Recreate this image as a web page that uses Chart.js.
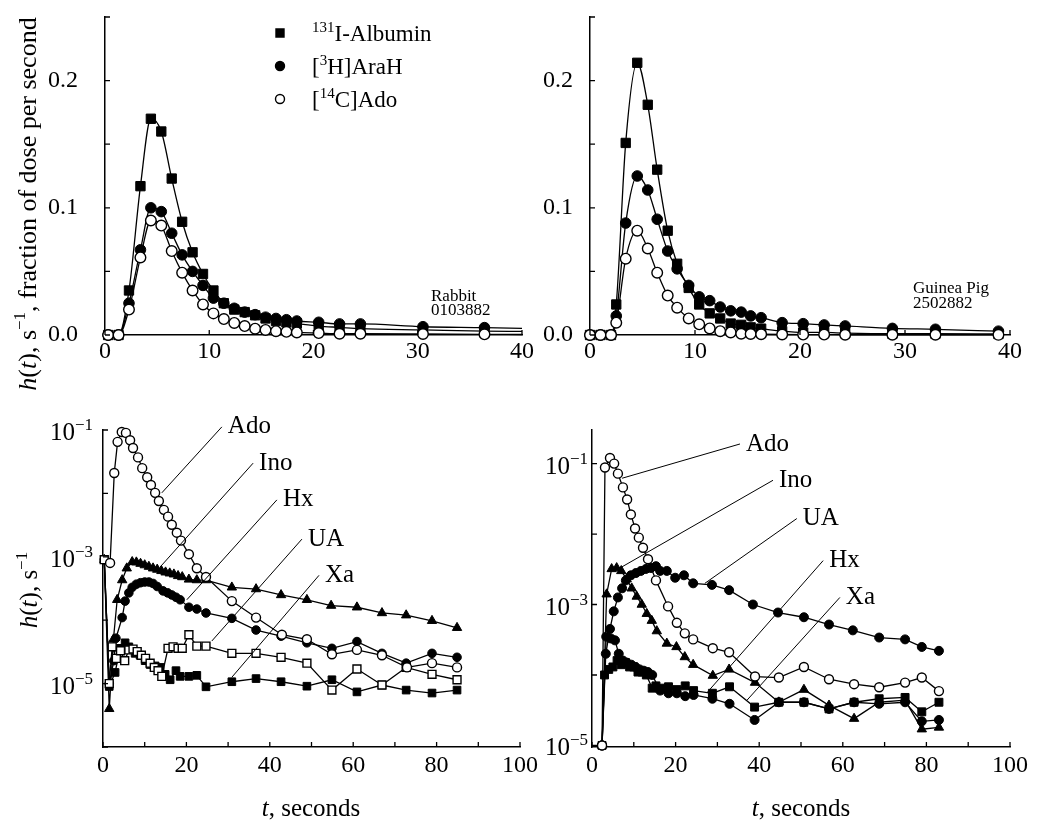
<!DOCTYPE html>
<html>
<head>
<meta charset="utf-8">
<script src="https://cdn.jsdelivr.net/npm/chart.js@4.4.1/dist/chart.umd.min.js"></script>
<style>
  html, body { margin: 0; padding: 0; background: #fff; }
  #page { position: relative; width: 1050px; height: 824px; overflow: hidden; }
  canvas { position: absolute; }
</style>
</head>
<body>
<div id="page">
  <canvas id="tl" width="545" height="410" style="left:0;top:0"></canvas>
  <canvas id="tr" width="520" height="375" style="left:530px;top:0"></canvas>
  <canvas id="bl" width="545" height="424" style="left:0;top:400px"></canvas>
  <canvas id="br" width="520" height="424" style="left:530px;top:400px"></canvas>
</div>
<script>
// ---- data: top left, rabbit 0103882 (fraction of dose per second)
const rabbitTime     = [0.3, 1.3, 2.3, 3.4, 4.4, 5.4, 6.4, 7.4, 8.4, 9.4, 10.4, 11.4, 12.4, 13.4, 14.4, 15.4, 16.4, 17.4, 18.4, 20.5, 22.5, 24.5, 30.5, 36.4, 40];
const rabbitAlbumin  = [0, 0, 0.035, 0.117, 0.170, 0.160, 0.123, 0.089, 0.065, 0.048, 0.035, 0.025, 0.020, 0.018, 0.0155, 0.013, 0.011, 0.010, 0.009, 0.007, 0.006, 0.005, 0.004, 0.003, 0.0028];
const rabbitAraH     = [0, 0, 0.025, 0.067, 0.100, 0.097, 0.080, 0.063, 0.050, 0.039, 0.029, 0.025, 0.021, 0.018, 0.016, 0.014, 0.013, 0.012, 0.011, 0.010, 0.0087, 0.0087, 0.0065, 0.0058, 0.0052];
const rabbitAdo      = [0, 0, 0.020, 0.061, 0.090, 0.086, 0.066, 0.049, 0.035, 0.024, 0.017, 0.0125, 0.0095, 0.007, 0.005, 0.004, 0.003, 0.0025, 0.002, 0.0015, 0.001, 0.001, 0.0008, 0.0005, 0.0004];

// ---- data: top right, guinea pig 2502882
const gpTime    = [0, 1.0, 2.0, 2.5, 3.4, 4.5, 5.5, 6.4, 7.4, 8.3, 9.4, 10.4, 11.4, 12.4, 13.4, 14.4, 15.3, 16.3, 18.3, 20.3, 22.3, 24.3, 28.8, 32.9, 38.9];
const gpAlbumin = [0, 0, 0, 0.024, 0.151, 0.214, 0.181, 0.130, 0.082, 0.056, 0.037, 0.024, 0.017, 0.013, 0.009, 0.008, 0.006, 0.005, 0.003, 0.002, 0.002, 0.0015, 0.001, 0.001, 0.0008];
const gpAraH    = [0, 0, 0, 0.015, 0.088, 0.125, 0.114, 0.091, 0.066, 0.052, 0.039, 0.030, 0.027, 0.022, 0.019, 0.018, 0.015, 0.0136, 0.0097, 0.0089, 0.0079, 0.0071, 0.0052, 0.0045, 0.003];
const gpAdo     = [0, 0, 0, 0.0097, 0.060, 0.082, 0.068, 0.049, 0.031, 0.0215, 0.013, 0.0084, 0.0052, 0.003, 0.002, 0.001, 0.0008, 0.0006, 0.0004, 0.0003, 0.0003, 0.0002, 0.0002, 0.0002, 0.0001];

// ---- data: bottom left, rabbit metabolites (s^-1, log)
const rbAdoT = [1.7, 2.7, 3.5, 4.5, 5.5, 6.5, 7.2, 8.4, 9.4, 10.6, 11.5, 12.5, 13.4, 14.6, 15.6, 16.5, 17.7, 18.7, 20.6, 22.5, 24.7, 30.9, 36.7, 42.9, 48.9, 54.9, 60.9, 66.9, 72.9, 78.9, 84.9];
const rbAdo  = [8e-4, 0.021, 0.065, 0.093, 0.09, 0.069, 0.052, 0.037, 0.025, 0.018, 0.0136, 0.0102, 0.0076, 0.0055, 0.0043, 0.0032, 0.0024, 0.0018, 0.0011, 6.6e-4, 4.8e-4, 2.0e-4, 1.1e-4, 5.9e-5, 5.0e-5, 2.9e-5, 3.4e-5, 2.8e-5, 1.8e-5, 2.1e-5, 1.8e-5];
const rbInoT = [0.3, 1.5, 2.5, 3.4, 4.6, 5.7, 7.0, 8.0, 9.0, 10.0, 11.0, 12.0, 13.0, 14.0, 15.0, 16.0, 17.0, 18.0, 19.0, 20.6, 22.5, 24.7, 30.9, 36.7, 42.7, 48.9, 54.7, 60.9, 66.9, 72.7, 78.9, 84.9];
const rbIno  = [9e-4, 4e-6, 5e-5, 2.1e-4, 4.3e-4, 6.6e-4, 8.3e-4, 8.2e-4, 7.8e-4, 7.4e-4, 7.0e-4, 6.6e-4, 6.3e-4, 6.0e-4, 5.7e-4, 5.5e-4, 5.3e-4, 5.0e-4, 4.8e-4, 4.4e-4, 4.3e-4, 4.3e-4, 3.3e-4, 3.1e-4, 2.5e-4, 2.1e-4, 1.7e-4, 1.6e-4, 1.3e-4, 1.2e-4, 9.8e-5, 7.6e-5];
const rbHxT  = [0.3, 1.5, 2.6, 3.1, 4.6, 5.3, 6.2, 7.0, 8.0, 9.0, 10.0, 11.0, 12.0, 13.0, 14.4, 15.5, 16.5, 17.5, 18.5, 20.6, 22.5, 24.7, 30.9, 36.7, 42.7, 48.9, 54.9, 60.9, 66.9, 72.7, 78.9, 84.9];
const rbHx   = [9e-4, 1e-5, 2.3e-5, 5.2e-5, 1.1e-4, 2e-4, 2.7e-4, 3.3e-4, 3.7e-4, 3.9e-4, 4.0e-4, 4.0e-4, 3.8e-4, 3.4e-4, 2.9e-4, 2.7e-4, 2.5e-4, 2.3e-4, 2.1e-4, 1.6e-4, 1.5e-4, 1.3e-4, 1.07e-4, 7e-5, 5.6e-5, 4.4e-5, 3.6e-5, 4.6e-5, 3e-5, 2.1e-5, 3e-5, 2.6e-5];
const rbUAT  = [0.3, 1.5, 2.2, 3.2, 4.2, 5.2, 6.2, 7.2, 8.2, 9.2, 10.2, 11.3, 12.3, 13.2, 14.1, 15.6, 16.8, 18.0, 19.0, 20.6, 22.5, 24.7, 30.9, 36.7, 42.7, 48.9, 54.9, 60.9, 66.9, 72.7, 78.9, 84.9];
const rbUA   = [9e-4, 1e-5, 3.8e-5, 2.5e-5, 3.3e-5, 2.3e-5, 3.4e-5, 3.5e-5, 3.2e-5, 2.8e-5, 2.5e-5, 2.1e-5, 1.8e-5, 1.6e-5, 1.3e-5, 3.6e-5, 3.8e-5, 3.6e-5, 3.6e-5, 5.9e-5, 3.9e-5, 3.9e-5, 3e-5, 3e-5, 2.6e-5, 2.1e-5, 7.9e-6, 1.7e-5, 9.5e-6, 1.8e-5, 1.4e-5, 1.15e-5];
const rbXaT  = [0.3, 1.5, 2.9, 4.1, 5.3, 6.2, 7.7, 8.9, 10.1, 11.3, 12.5, 13.7, 14.9, 16.1, 17.5, 18.5, 20.6, 22.5, 24.7, 30.9, 36.7, 42.7, 48.9, 54.9, 60.9, 66.9, 72.7, 78.9, 84.9];
const rbXa   = [9e-4, 9e-6, 1.5e-5, 3.6e-5, 4.4e-5, 3.8e-5, 3e-5, 2.8e-5, 2.3e-5, 2e-5, 1.9e-5, 1.8e-5, 1.4e-5, 1.15e-5, 1.6e-5, 1.3e-5, 1.3e-5, 1.35e-5, 8.9e-6, 1.07e-5, 1.2e-5, 1.07e-5, 9.1e-6, 1.15e-5, 7.4e-6, 9.5e-6, 7.9e-6, 7.1e-6, 7.9e-6];

// ---- data: bottom right, guinea pig metabolites
const gbAdoT = [2.4, 3.1, 4.3, 5.3, 6.2, 7.4, 8.4, 9.3, 10.3, 11.2, 12.2, 13.4, 15.3, 18.2, 20.3, 22.2, 24.2, 28.9, 32.8, 39.0, 44.7, 50.7, 56.7, 62.7, 68.7, 74.9, 78.9, 83.0];
const gbAdo  = [1e-5, 0.088, 0.12, 0.10, 0.072, 0.046, 0.031, 0.019, 0.012, 0.0089, 0.0064, 0.0044, 0.0022, 9.4e-4, 5.5e-4, 3.9e-4, 3.2e-4, 2.4e-4, 2.1e-4, 9.5e-5, 9.2e-5, 1.3e-4, 8.7e-5, 7.4e-5, 6.7e-5, 7.8e-5, 9.2e-5, 5.9e-5];
const gbInoT = [2.4, 3.5, 4.7, 5.9, 7.0, 8.3, 9.5, 10.7, 11.9, 13.1, 14.3, 15.5, 17.9, 20.2, 22.2, 24.2, 28.9, 32.8, 39.0, 44.7, 50.7, 56.7, 62.7, 68.7, 74.9, 78.9, 83.0];
const gbIno  = [1e-5, 1.4e-3, 3.2e-3, 3.3e-3, 3.0e-3, 2.3e-3, 1.7e-3, 1.3e-3, 1.0e-3, 7.4e-4, 5.9e-4, 4.2e-4, 2.8e-4, 2.5e-4, 1.8e-4, 1.4e-4, 9.8e-5, 1.2e-4, 7.8e-5, 4.1e-5, 6.2e-5, 3.7e-5, 2.4e-5, 4.1e-5, 4.4e-5, 1.7e-5, 1.8e-5];
const gbUAT  = [2.4, 3.3, 4.3, 5.2, 6.2, 7.2, 8.1, 9.3, 10.5, 11.7, 12.9, 14.1, 15.3, 16.3, 17.9, 19.9, 22.0, 24.2, 28.7, 32.8, 38.5, 44.5, 50.7, 56.7, 62.4, 68.7, 74.9, 78.9, 83.0];
const gbUA   = [1e-5, 2e-4, 4.5e-4, 8e-4, 1.26e-3, 1.7e-3, 2.2e-3, 2.6e-3, 2.8e-3, 3.0e-3, 3.2e-3, 3.3e-3, 3.5e-3, 3.0e-3, 3.0e-3, 2.4e-3, 2.6e-3, 2.0e-3, 1.9e-3, 1.6e-3, 1.0e-3, 7.7e-4, 6.6e-4, 5.2e-4, 4.3e-4, 3.4e-4, 3.2e-4, 2.5e-4, 2.2e-4];
const gbHxT  = [2.4, 3.4, 4.5, 5.5, 6.4, 7.4, 8.3, 9.4, 10.4, 11.4, 12.4, 13.4, 14.4, 16.3, 18.3, 20.3, 22.3, 24.3, 28.8, 32.9, 38.9, 44.7, 50.7, 56.7, 62.7, 68.7, 74.9, 78.9, 83.0];
const gbHx   = [1e-5, 3.5e-4, 3.3e-4, 3.1e-4, 2.0e-4, 1.6e-4, 1.5e-4, 1.4e-4, 1.3e-4, 1.2e-4, 1.15e-4, 1.1e-4, 1.0e-4, 6e-5, 5.5e-5, 5.5e-5, 5e-5, 5.2e-5, 4.6e-5, 3.9e-5, 2.3e-5, 4.1e-5, 4.1e-5, 3.3e-5, 4.1e-5, 3.9e-5, 4.1e-5, 2.2e-5, 2.3e-5];
const gbXaT  = [2.4, 3.0, 4.0, 5.0, 6.0, 7.0, 8.0, 9.0, 10.0, 11.0, 12.0, 13.0, 14.4, 15.3, 16.3, 18.3, 20.3, 22.3, 24.3, 28.8, 32.9, 38.9, 44.7, 50.7, 56.7, 62.7, 68.7, 74.9, 78.9, 83.0];
const gbXa   = [1e-5, 1.0e-4, 1.2e-4, 1.3e-4, 1.6e-4, 1.4e-4, 1.5e-4, 1.3e-4, 1.3e-4, 1.1e-4, 1.1e-4, 1.0e-4, 6.5e-5, 7.0e-5, 6.5e-5, 6.8e-5, 6.2e-5, 7e-5, 6e-5, 5.5e-5, 6.8e-5, 3.5e-5, 4.1e-5, 4.1e-5, 3.3e-5, 4.1e-5, 4.6e-5, 4.8e-5, 3e-5, 4.1e-5];

// tick values
const linTicksShown = [0, 0.1, 0.2];
const logDecadesLeft  = [1e-6, 1e-5, 1e-4, 1e-3, 1e-2, 1e-1];
const logDecadesRight = [1e-5, 1e-4, 1e-3, 1e-2, 1e-1];
const logLabelExps = [-1, -3, -5];

const SERIF = '"Liberation Serif", "Times New Roman", Times, serif';

function fontOf(seg, size) {
  const s = seg.sup ? Math.round(size * 0.66) : size;
  return (seg.it ? 'italic ' : '') + s + 'px ' + SERIF;
}
function richWidth(ctx, segs, size) {
  let w = 0;
  segs.forEach(sg => { ctx.font = fontOf(sg, size); w += ctx.measureText(sg.t).width; });
  return w;
}
function drawRich(ctx, segs, x, y, size) {
  ctx.textBaseline = 'alphabetic';
  ctx.textAlign = 'left';
  segs.forEach(sg => {
    ctx.font = fontOf(sg, size);
    ctx.fillText(sg.t, x, sg.sup ? y - size * 0.4 : y);
    x += ctx.measureText(sg.t).width;
  });
}

function drawMarker(ctx, shape, x, y, r, open) {
  ctx.beginPath();
  if (shape === 'rect') ctx.rect(x - r, y - r, 2 * r, 2 * r);
  else ctx.arc(x, y, r, 0, Math.PI * 2);
  ctx.fillStyle = open ? '#fff' : '#000';
  ctx.fill();
  ctx.lineWidth = 1.4;
  ctx.strokeStyle = '#000';
  ctx.stroke();
}

const decor = {
  id: 'decor',
  afterDraw(chart, args, o) {
    const ctx = chart.ctx, a = chart.chartArea;
    const xs = chart.scales.x, ys = chart.scales.y;
    ctx.save();
    ctx.fillStyle = '#000';
    ctx.strokeStyle = '#000';
    // inward tick marks
    ctx.lineWidth = 1.3;
    ctx.beginPath();
    xs.ticks.forEach(t => {
      const px = xs.getPixelForValue(t.value);
      ctx.moveTo(px, a.bottom); ctx.lineTo(px, a.bottom - 5);
    });
    ys.ticks.forEach(t => {
      const py = ys.getPixelForValue(t.value);
      ctx.moveTo(a.left, py); ctx.lineTo(a.left + 5, py);
    });
    ctx.stroke();

    // log labels 10^n
    if (o.logLabels) {
      logLabelExps.forEach(e => {
        const py = ys.getPixelForValue(Math.pow(10, e));
        const segs = [{t: '10'}, {t: '\u2212' + Math.abs(e), sup: true}];
        const w = richWidth(ctx, segs, 25);
        drawRich(ctx, segs, a.left - o.logGap - w, py + 10, 25);
      });
    }

    // leader labels
    (o.leaders || []).forEach(l => {
      const x1 = xs.getPixelForValue(l.at[0]), y1 = ys.getPixelForValue(l.at[1]);
      const x2 = xs.getPixelForValue(l.to[0]), y2 = ys.getPixelForValue(l.to[1]);
      ctx.lineWidth = 1;
      ctx.beginPath(); ctx.moveTo(x1, y1); ctx.lineTo(x2, y2); ctx.stroke();
      ctx.font = '25px ' + SERIF;
      ctx.textAlign = 'left'; ctx.textBaseline = 'middle';
      ctx.fillText(l.text, x1 + 6, y1);
    });

    // legend
    (o.legend || []).forEach(it => {
      drawMarker(ctx, it.shape, it.mx, it.my, it.r, it.open);
      ctx.fillStyle = '#000';
      drawRich(ctx, it.segs, it.tx, it.my + 8, 23);
    });

    // free texts
    (o.texts || []).forEach(tx => {
      ctx.fillStyle = '#000';
      if (tx.rotate) {
        ctx.save();
        ctx.translate(tx.x, tx.y);
        ctx.rotate(-Math.PI / 2);
        const w = richWidth(ctx, tx.segs, tx.size);
        drawRich(ctx, tx.segs, -w / 2, tx.size * 0.33, tx.size);
        ctx.restore();
      } else {
        const w = tx.center ? richWidth(ctx, tx.segs, tx.size) : 0;
        drawRich(ctx, tx.segs, tx.x - w / 2, tx.y, tx.size);
      }
    });
    ctx.restore();
  }
};

function pts(ts, vs) { return ts.map((t, i) => ({x: t, y: vs[i]})); }

function series(ts, vs, shape, r, open, smooth, hideLast) {
  return {
    data: pts(ts, vs),
    showLine: true,
    borderColor: '#000',
    borderWidth: 1.3,
    pointStyle: shape,
    pointRadius: hideLast ? (c => c.dataIndex === ts.length - 1 ? 0 : r) : r,
    pointBackgroundColor: open ? '#fff' : '#000',
    pointBorderColor: '#000',
    pointBorderWidth: open ? 1.4 : 1,
    cubicInterpolationMode: smooth ? 'monotone' : 'default',
    tension: 0,
    clip: false
  };
}

function options(p) {
  const yScale = p.log ? {
    type: 'logarithmic', min: p.yMin, max: p.yMax,
    afterBuildTicks: s => { s.ticks = p.decades.map(v => ({value: v})); },
    ticks: {display: false}
  } : {
    type: 'linear', min: 0, max: 0.25,
    ticks: {
      stepSize: 0.05, color: '#000', padding: p.yPad,
      font: {family: SERIF, size: 24},
      callback: v => linTicksShown.some(s => Math.abs(s - v) < 1e-6) ? v.toFixed(1) : ''
    }
  };
  yScale.grid = {drawOnChartArea: false, drawTicks: false};
  yScale.border = {color: '#000', width: 1.5};
  yScale.afterFit = s => { s.width = p.yW; s.paddingTop = 0; s.paddingBottom = 0; };
  return {
    responsive: false, animation: false, devicePixelRatio: 1,
    layout: {padding: p.padding},
    plugins: {legend: {display: false}, tooltip: {enabled: false}, decor: p.decor},
    scales: {
      x: {
        type: 'linear', min: 0, max: p.xMax,
        grid: {drawOnChartArea: false, drawTicks: false},
        border: {color: '#000', width: 1.5},
        ticks: {
          stepSize: 10, autoSkip: false, maxRotation: 0, color: '#000', padding: p.xPad,
          font: {family: SERIF, size: 24},
          callback: v => (v % p.xLabelStep === 0 ? String(v) : '')
        },
        afterFit: s => { s.height = p.xH; s.paddingLeft = 0; s.paddingRight = 0; }
      },
      y: yScale
    }
  };
}

const hSegs = [{t: 'h', it: true}, {t: '('}, {t: 't', it: true}, {t: '), s'}, {t: '\u22121', sup: true}];
const xTitle = [{t: 't', it: true}, {t: ', seconds'}];

new Chart(document.getElementById('tl'), {
  type: 'scatter',
  data: {datasets: [
    series(rabbitTime, rabbitAdo, 'circle', 5.3, true, true, true),
    series(rabbitTime, rabbitAraH, 'circle', 5.3, false, true, true),
    series(rabbitTime, rabbitAlbumin, 'rect', 6.6, false, true, true)
  ]},
  options: options({
    xMax: 40, xLabelStep: 10, xPad: 2, xH: 75, yW: 105, yPad: 27,
    padding: {left: 0, top: 17, right: 23, bottom: 0},
    decor: {
      legend: [
        {shape: 'rect', r: 4, mx: 280, my: 33, tx: 312, segs: [{t: '131', sup: true}, {t: 'I-Albumin'}]},
        {shape: 'circle', r: 4.5, mx: 280, my: 66, tx: 312, segs: [{t: '['}, {t: '3', sup: true}, {t: 'H]AraH'}]},
        {shape: 'circle', r: 4.5, open: true, mx: 280, my: 99, tx: 312, segs: [{t: '['}, {t: '14', sup: true}, {t: 'C]Ado'}]}
      ],
      texts: [
        {segs: [{t: 'Rabbit'}], x: 431, y: 301, size: 17},
        {segs: [{t: '0103882'}], x: 431, y: 315, size: 17},
        {segs: hSegs.concat([{t: ', fraction of dose per second'}]), x: 27, y: 204, size: 26, rotate: true}
      ]
    }
  }),
  plugins: [decor]
});

new Chart(document.getElementById('tr'), {
  type: 'scatter',
  data: {datasets: [
    series(gpTime, gpAdo, 'circle', 5.3, true, true),
    series(gpTime, gpAraH, 'circle', 5.3, false, true),
    series(gpTime, gpAlbumin, 'rect', 6.6, false, true)
  ]},
  options: options({
    xMax: 40, xLabelStep: 10, xPad: 2, xH: 40, yW: 60, yPad: 17,
    padding: {left: 0, top: 17, right: 40, bottom: 0},
    decor: {
      texts: [
        {segs: [{t: 'Guinea Pig'}], x: 383, y: 293, size: 17},
        {segs: [{t: '2502882'}], x: 383, y: 308, size: 17}
      ]
    }
  }),
  plugins: [decor]
});

new Chart(document.getElementById('bl'), {
  type: 'scatter',
  data: {datasets: [
    series(rbAdoT, rbAdo, 'circle', 4.5, true),
    series(rbUAT, rbUA, 'rect', 5.6, true),
    series(rbInoT, rbIno, 'triangle', 5.4, false),
    series(rbHxT, rbHx, 'circle', 4.3, false),
    series(rbXaT, rbXa, 'rect', 5.4, false)
  ]},
  options: options({
    log: true, yMin: 1e-6, yMax: 0.1, decades: logDecadesLeft,
    xMax: 100, xLabelStep: 20, xPad: 4, xH: 77, yW: 103,
    padding: {left: 0, top: 30, right: 25, bottom: 0},
    decor: {
      logLabels: true, logGap: 10,
      leaders: [
        {text: 'Ado', at: [28.5, 0.112], to: [14.1, 0.0102]},
        {text: 'Ino', at: [36, 0.030], to: [13.7, 6.9e-4]},
        {text: 'Hx', at: [41.7, 0.0079], to: [20.1, 2.1e-4]},
        {text: 'UA', at: [47.7, 1.9e-3], to: [26.1, 4.7e-5]},
        {text: 'Xa', at: [51.8, 5.1e-4], to: [30.9, 1.26e-5]}
      ],
      texts: [
        {segs: hSegs, x: 29, y: 190, size: 25, rotate: true},
        {segs: xTitle, x: 311, y: 416, size: 25, center: true}
      ]
    }
  }),
  plugins: [decor]
});

new Chart(document.getElementById('br'), {
  type: 'scatter',
  data: {datasets: [
    series(gbAdoT, gbAdo, 'circle', 4.5, true),
    series(gbUAT, gbUA, 'circle', 4.5, false),
    series(gbInoT, gbIno, 'triangle', 5.4, false),
    series(gbHxT, gbHx, 'circle', 4.5, false),
    series(gbXaT, gbXa, 'rect', 5.6, false)
  ]},
  options: options({
    log: true, yMin: 9.5e-6, yMax: 0.3, decades: logDecadesRight,
    xMax: 100, xLabelStep: 20, xPad: 4, xH: 77, yW: 62,
    padding: {left: 0, top: 30, right: 40, bottom: 0},
    decor: {
      logLabels: true, logGap: 4,
      leaders: [
        {text: 'Ado', at: [35.4, 0.19], to: [7.2, 0.062]},
        {text: 'Ino', at: [43.3, 0.058], to: [6.7, 3.3e-3]},
        {text: 'UA', at: [49, 0.0166], to: [27, 2.0e-3]},
        {text: 'Hx', at: [55.3, 4.2e-3], to: [27.5, 5.6e-5]},
        {text: 'Xa', at: [59.3, 1.26e-3], to: [37.1, 4.4e-5]}
      ],
      texts: [
        {segs: xTitle, x: 271, y: 416, size: 25, center: true}
      ]
    }
  }),
  plugins: [decor]
});
</script>
</body>
</html>
